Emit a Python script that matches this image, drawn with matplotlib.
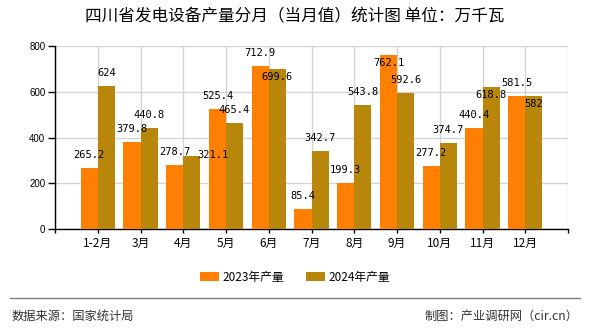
import numpy as np
import matplotlib
matplotlib.use('Agg')
import matplotlib.pyplot as plt

plt.rcParams['font.family'] = ['Noto Sans CJK SC', 'DejaVu Sans']

#data
months = ['1-2月', '3月', '4月', '5月', '6月', '7月', '8月', '9月', '10月', '11月', '12月']
prod_2023 = [265.2, 379.8, 278.7, 525.4, 712.9, 85.4, 199.3, 762.1, 277.2, 440.4, 581.5]
prod_2024 = [624, 440.8, 321.1, 465.4, 699.6, 342.7, 543.8, 592.6, 374.7, 618.8, 582]
yticks = [0, 200, 400, 600, 800]

c23 = '#FF8000'
c24 = '#B8860B'

# label offsets in pixels (dx, dy) relative to bar top, tweak for overlaps
off_2023 = {7: (0, -8)}
off_2024 = {2: (21, 1), 4: (0, -8), 9: (0, -8), 10: (0, -8)}

fig = plt.figure(figsize=(5.9, 3.3), dpi=100)
ax = fig.add_axes([55/590, 1-229/330, (568-55)/590, (229-46)/330])

x = np.arange(1, len(months)+1)
w = 0.4
b1 = ax.bar(x - w/2, prod_2023, w, color=c23, label='2023年产量', zorder=3)
b2 = ax.bar(x + w/2, prod_2024, w, color=c24, label='2024年产量', zorder=3)

def fmt(v):
    return ('%g' % v)

for i, v in enumerate(prod_2023):
    dx, dy = off_2023.get(i, (0, 13))
    ax.annotate(fmt(v), (x[i]-w/2, v), xytext=(dx, dy), textcoords='offset pixels',
                ha='center', va='center', fontsize=7.5, family='DejaVu Sans Mono', zorder=5)
for i, v in enumerate(prod_2024):
    dx, dy = off_2024.get(i, (0, 13))
    ax.annotate(fmt(v), (x[i]+w/2, v), xytext=(dx, dy), textcoords='offset pixels',
                ha='center', va='center', fontsize=7.5, family='DejaVu Sans Mono', zorder=5)

ax.set_xlim(0, 12)
ax.set_ylim(0, 800)
ax.set_yticks(yticks)
ax.set_yticklabels([str(t) for t in yticks], fontsize=7, family='Liberation Sans')
ax.set_xticks(np.arange(0, 13))
ax.set_xticklabels([''] + months + [''], fontsize=8.5)
ax.tick_params(axis='y', length=5, width=1, pad=2)
ax.tick_params(axis='x', length=3, width=1, pad=3)
ax.grid(True, color='#d3d3d3', linewidth=1, zorder=0)
for s in ['top', 'right']:
    ax.spines[s].set_visible(False)
ax.spines['left'].set_linewidth(1)
ax.spines['bottom'].set_linewidth(1)

fig.text(0.5, 1-17/330, '四川省发电设备产量分月（当月值）统计图 单位：万千瓦', ha='center', va='center', fontsize=12)

fig.legend(handles=[b1, b2], loc='center', bbox_to_anchor=(295/590, 1-277/330), ncol=2, frameon=False,
           fontsize=8.5, handlelength=1.6, handleheight=0.7, handletextpad=0.3, columnspacing=1.8)

fig.add_artist(plt.Line2D([10/590, 580/590], [1-298/330, 1-298/330], color='#808080', linewidth=1))
fig.text(12/590, 1-316/330, '数据来源：国家统计局', ha='left', va='center', fontsize=8.8, color='#333333')
fig.text(578/590, 1-316/330, '制图：产业调研网（cir.cn）', ha='right', va='center', fontsize=8.8, color='#333333')

fig.savefig('out.png', dpi=100)
